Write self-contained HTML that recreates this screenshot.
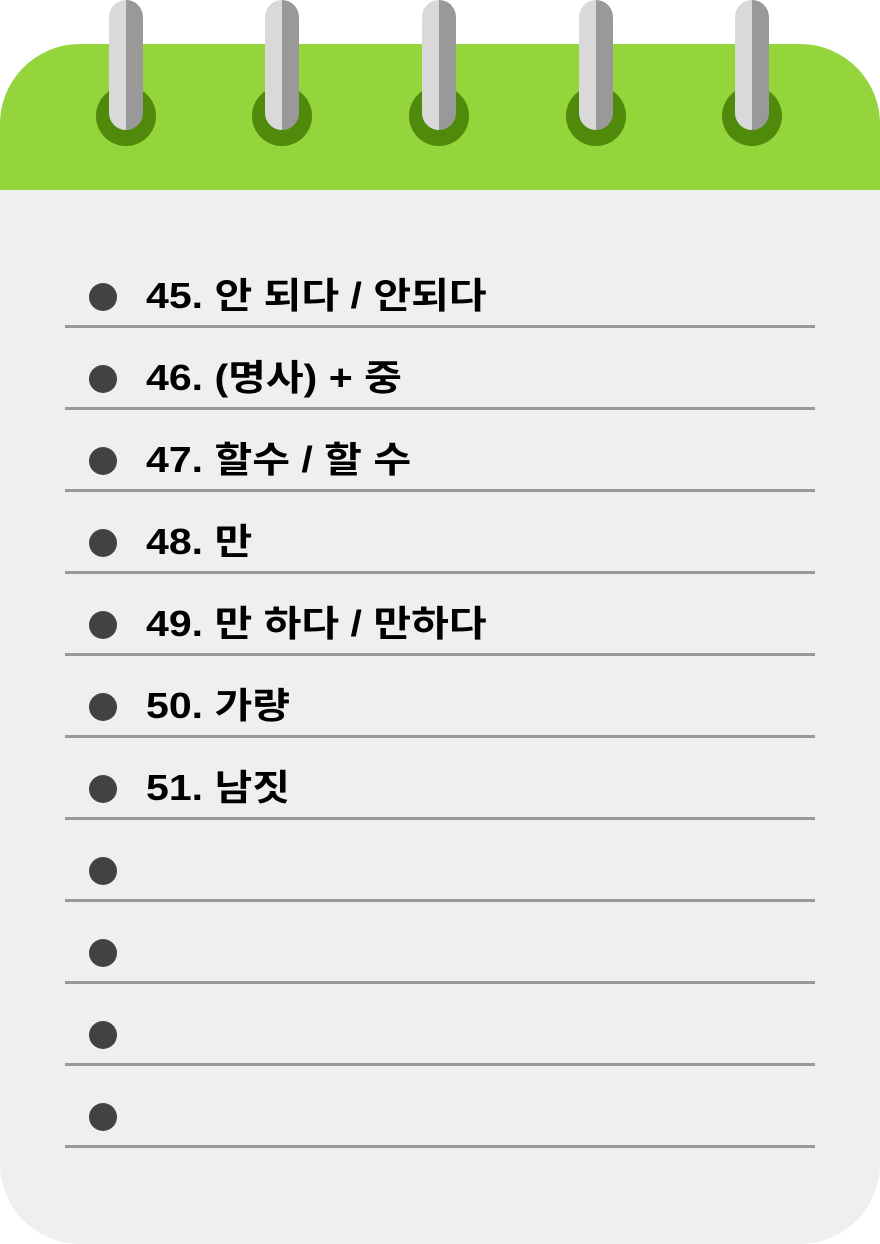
<!DOCTYPE html>
<html><head><meta charset="utf-8"><style>
html,body{margin:0;padding:0;background:#fff;}
#pad{position:relative;width:880px;height:1244px;overflow:hidden;}
.body{position:absolute;left:0;top:44px;width:880px;height:1200px;background:#efefef;border-radius:80px;}
.top{position:absolute;left:0;top:44px;width:880px;height:146px;background:#93d53b;border-radius:80px 80px 0 0;}
.hole{position:absolute;top:86px;width:60px;height:60px;border-radius:50%;background:#4f8a0b;}
.rod{position:absolute;top:0;width:34px;height:130px;border-radius:17px;background:linear-gradient(90deg,#d9d9d9 50%,#999 50%);}
.bullet{position:absolute;left:89px;width:28px;height:28px;border-radius:50%;background:#424242;}
.line{position:absolute;left:65px;width:750px;height:3px;background:#999;}
.txt{position:absolute;left:146px;font-family:"Liberation Sans","Noto Sans CJK KR",sans-serif;font-weight:bold;font-size:36px;color:#000;line-height:40px;white-space:nowrap;transform:scaleX(1.14);transform-origin:0 50%;}
</style></head><body>
<div id="pad">
<div class="body"></div>
<div class="top"></div>
<div id="rings"></div>
<div id="rows"></div>
</div>
<script>
const ringXs=[126,282,439,596,752];
const items=["45. 안 되다 / 안되다","46. (명사) + 중","47. 할수 / 할 수","48. 만","49. 만 하다 / 만하다","50. 가량","51. 남짓","","","",""];
const rings=document.getElementById('rings');
ringXs.forEach((x,i)=>{
 const h=document.createElement('div');h.className='hole';h.style.left=(x-30)+'px';
 
 
 rings.appendChild(h);
 const r=document.createElement('div');r.className='rod';r.style.left=(x-17)+'px';
 
 
 rings.appendChild(r);
});
const rows=document.getElementById('rows');
items.forEach((t,i)=>{
 const cy=297+i*82;
 const b=document.createElement('div');b.className='bullet';b.style.top=(cy-14)+'px';
 
 
 rows.appendChild(b);
 const l=document.createElement('div');l.className='line';l.style.top=(cy+28)+'px';
 
 
 rows.appendChild(l);
 if(t){const s=document.createElement('div');s.className='txt';s.style.top=(cy-21)+'px';s.textContent=t;
 
 
 rows.appendChild(s);}
});
</script>
</body></html>
